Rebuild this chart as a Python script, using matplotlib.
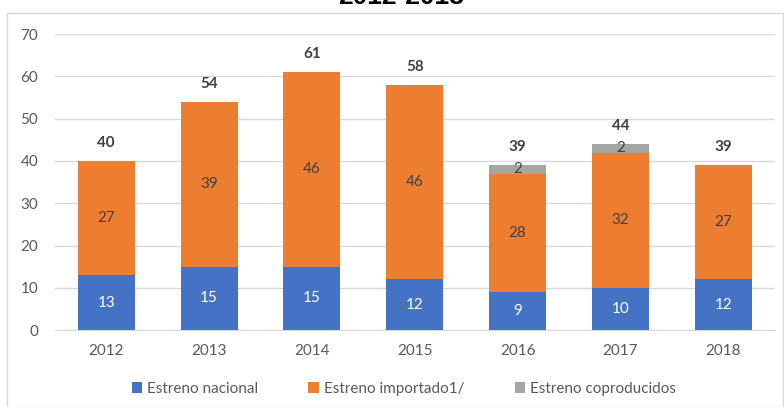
import numpy as np
import matplotlib.pyplot as plt
from matplotlib.patches import Rectangle

years = ['2012', '2013', '2014', '2015', '2016', '2017', '2018']
nacional = [13, 15, 15, 12, 9, 10, 12]
importado = [27, 39, 46, 46, 28, 32, 27]
coproducidos = [0, 0, 0, 0, 2, 2, 0]
totales = [40, 54, 61, 58, 39, 44, 39]

plt.rcParams['font.family'] = ['Lato', 'DejaVu Sans']

fig = plt.figure(figsize=(7.84, 4.07), dpi=100)
ax = fig.add_axes([0.070, 0.189, 0.918, 0.727])

x = np.arange(len(years))
w = 0.555
bottom2 = np.array(nacional)
bottom3 = bottom2 + np.array(importado)
b1 = ax.bar(x, nacional, w, color='#4472C4', label='Estreno nacional', zorder=3)
b2 = ax.bar(x, importado, w, bottom=bottom2, color='#ED7D31', label='Estreno importado1/', zorder=3)
b3 = ax.bar(x, coproducidos, w, bottom=bottom3, color='#A5A5A5', label='Estreno coproducidos', zorder=3)

# etiquetas dentro de las barras
for i in range(len(years)):
    ax.text(x[i], nacional[i] / 2, str(nacional[i]), ha='center', va='center',
            color='white', fontsize=11, zorder=4)
    ax.text(x[i], bottom2[i] + importado[i] / 2, str(importado[i]), ha='center', va='center',
            color='#404040', fontsize=11, zorder=4)
    if coproducidos[i] > 0:
        ax.text(x[i], bottom3[i] + coproducidos[i] / 2, str(coproducidos[i]), ha='center',
                va='center', color='#404040', fontsize=11, zorder=4)
    ax.annotate(str(totales[i]), (x[i], totales[i]), xytext=(0, 13), textcoords='offset points',
                ha='center', va='center', color='#404040', fontsize=11, fontweight='bold')

ax.set_xlim(-0.5, 6.5)
ax.set_ylim(0, 70)
ax.set_yticks(range(0, 71, 10))
ax.set_xticks(x)
ax.set_xticklabels(years)
ax.grid(axis='y', color='#D9D9D9', lw=1, zorder=0)
for s in ['top', 'right', 'left']:
    ax.spines[s].set_visible(False)
ax.spines['bottom'].set_color('#D9D9D9')
ax.tick_params(axis='both', length=0, colors='#595959', labelsize=11)
ax.tick_params(axis='x', pad=10)
ax.tick_params(axis='y', pad=12)

fig.legend(handles=[b1, b2, b3], loc='center', bbox_to_anchor=(0.515, 0.045), ncol=3,
           frameon=False, fontsize=11, handlelength=0.7, handleheight=0.7,
           columnspacing=3.3, handletextpad=0.3, labelcolor='#595959')

fig.patches.append(Rectangle((0.009, 0.0), 0.99, 0.968, transform=fig.transFigure,
                             fill=False, edgecolor='#D9D9D9', lw=1))

# titulo cortado por arriba, como en el original
fig.text(0.512, 1 - 4.5 / 407, '2012-2018', ha='center', va='baseline', fontsize=19,
         fontweight='bold', family='Liberation Sans')

fig.savefig('out.png', dpi=100)
